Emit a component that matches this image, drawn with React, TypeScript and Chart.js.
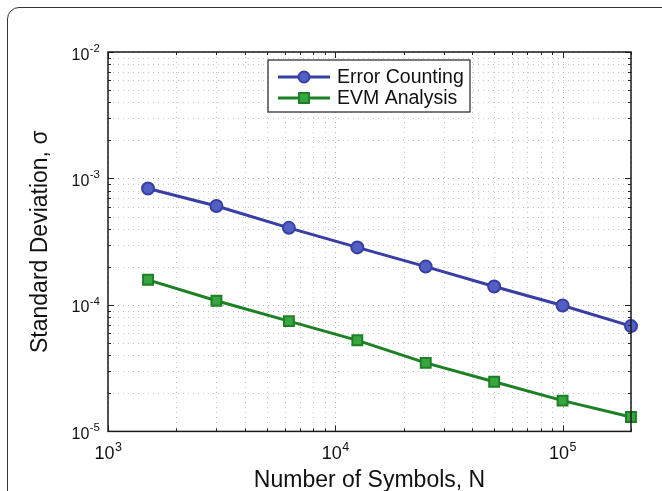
import React, { useEffect, useRef } from "react";
import { Chart, registerables } from "chart.js";

Chart.register(...registerables);

// ---- data ----
const symbolCounts = [1500, 3000, 6250, 12500, 25000, 50000, 100000, 200000];
const errorCountingStd = [8.34e-4, 6.06e-4, 4.07e-4, 2.85e-4, 2.01e-4, 1.4e-4, 9.9e-5, 6.8e-5];
const evmAnalysisStd = [1.58e-4, 1.08e-4, 7.45e-5, 5.25e-5, 3.48e-5, 2.47e-5, 1.75e-5, 1.3e-5];
const seriesLabels = ["Error Counting", "EVM Analysis"];
const xTickExponents = [3, 4, 5];
const yTickExponents = [-2, -3, -4, -5];
const xAxisTitle = "Number of Symbols, N";
const yAxisTitle = "Standard Deviation, σ";
const xRange = [1000, 200000];
const yRange = [1e-5, 1e-2];

const FONT = "'Liberation Sans', Arial, Helvetica, sans-serif";
const BLUE_LINE = "rgb(55,62,165)";
const BLUE_FILL = "rgb(82,96,195)";
const GREEN_LINE = "rgb(28,128,36)";
const GREEN_FILL = "rgb(56,165,64)";

function decadeValues(min: number, max: number): { v: number; major: boolean }[] {
  const out: { v: number; major: boolean }[] = [];
  const e0 = Math.floor(Math.log10(min));
  const e1 = Math.ceil(Math.log10(max));
  for (let e = e0; e <= e1; e++) {
    for (let m = 1; m <= 9; m++) {
      const v = m * Math.pow(10, e);
      if (v >= min * 0.9999 && v <= max * 1.0001) out.push({ v, major: m === 1 });
    }
  }
  return out;
}

const matlabPlugin = {
  id: "matlabFrame",
  beforeDatasetsDraw(chart: any) {
    const { ctx, chartArea: a, scales } = chart;
    const xs = scales.x;
    const ys = scales.y;
    ctx.save();
    ctx.lineWidth = 1;
    ctx.setLineDash([1, 4]);
    for (const t of decadeValues(xRange[0], xRange[1])) {
      const px = Math.round(xs.getPixelForValue(t.v)) + 0.5;
      ctx.strokeStyle = t.major ? "rgba(140,140,140,0.7)" : "rgba(150,150,150,0.55)";
      ctx.beginPath();
      ctx.moveTo(px, a.top);
      ctx.lineTo(px, a.bottom);
      ctx.stroke();
    }
    for (const t of decadeValues(yRange[0], yRange[1])) {
      const py = Math.round(ys.getPixelForValue(t.v)) + 0.5;
      ctx.strokeStyle = t.major ? "rgba(140,140,140,0.7)" : "rgba(150,150,150,0.55)";
      ctx.beginPath();
      ctx.moveTo(a.left, py);
      ctx.lineTo(a.right, py);
      ctx.stroke();
    }
    ctx.restore();
  },
  afterDatasetsDraw(chart: any) {
    const { ctx, chartArea: a, scales } = chart;
    const xs = scales.x;
    const ys = scales.y;
    ctx.save();
    // ticks
    ctx.strokeStyle = "#222";
    ctx.lineWidth = 1;
    for (const t of decadeValues(xRange[0], xRange[1])) {
      const px = Math.round(xs.getPixelForValue(t.v)) + 0.5;
      const len = t.major ? 6 : 3;
      ctx.beginPath();
      ctx.moveTo(px, a.bottom);
      ctx.lineTo(px, a.bottom - len);
      ctx.moveTo(px, a.top);
      ctx.lineTo(px, a.top + len);
      ctx.stroke();
    }
    for (const t of decadeValues(yRange[0], yRange[1])) {
      const py = Math.round(ys.getPixelForValue(t.v)) + 0.5;
      const len = t.major ? 6 : 3;
      ctx.beginPath();
      ctx.moveTo(a.left, py);
      ctx.lineTo(a.left + len, py);
      ctx.moveTo(a.right, py);
      ctx.lineTo(a.right - len, py);
      ctx.stroke();
    }
    // axes box
    ctx.lineWidth = 1.5;
    ctx.strokeStyle = "#1a1a1a";
    ctx.strokeRect(a.left, a.top, a.right - a.left, a.bottom - a.top);

    // legend
    const lx = 268, ly = 60, lw = 202, lh = 52;
    ctx.fillStyle = "#fff";
    ctx.fillRect(lx, ly, lw, lh);
    ctx.lineWidth = 1.2;
    ctx.strokeStyle = "#222";
    ctx.strokeRect(lx, ly, lw, lh);
    const rows = [
      { label: seriesLabels[0], line: BLUE_LINE, fill: BLUE_FILL, shape: "circle", y: ly + 17 },
      { label: seriesLabels[1], line: GREEN_LINE, fill: GREEN_FILL, shape: "rect", y: ly + 38 },
    ];
    for (const r of rows) {
      ctx.strokeStyle = r.line;
      ctx.lineWidth = 3;
      ctx.beginPath();
      ctx.moveTo(lx + 10, r.y);
      ctx.lineTo(lx + 62, r.y);
      ctx.stroke();
      ctx.lineWidth = 2;
      ctx.fillStyle = r.fill;
      ctx.beginPath();
      if (r.shape === "circle") {
        ctx.arc(lx + 36, r.y, 5.5, 0, Math.PI * 2);
      } else {
        ctx.rect(lx + 31, r.y - 5, 10, 10);
      }
      ctx.fill();
      ctx.stroke();
      ctx.fillStyle = "#111";
      ctx.font = `19.5px ${FONT}`;
      ctx.textAlign = "left";
      ctx.textBaseline = "middle";
      ctx.fillText(r.label, lx + 69, r.y + 1);
    }
    ctx.restore();
  },
  afterDraw(chart: any) {
    const { ctx, chartArea: a, scales } = chart;
    const xs = scales.x;
    const ys = scales.y;
    ctx.save();
    ctx.fillStyle = "#111";
    ctx.textBaseline = "alphabetic";
    ctx.textAlign = "left";
    const xBase = `18px ${FONT}`;
    const xSup = `12.5px ${FONT}`;
    for (const e of xTickExponents) {
      const px = xs.getPixelForValue(Math.pow(10, e));
      ctx.font = xBase;
      const wb = ctx.measureText("10").width;
      ctx.font = xSup;
      const ws = ctx.measureText(String(e)).width;
      const start = px - (wb + ws) / 2;
      ctx.font = xBase;
      ctx.fillText("10", start, a.bottom + 28);
      ctx.font = xSup;
      ctx.fillText(String(e), start + wb + 0.5, a.bottom + 20);
    }
    const yBase = `16px ${FONT}`;
    const ySup = `11.5px ${FONT}`;
    for (const e of yTickExponents) {
      const py = ys.getPixelForValue(Math.pow(10, e));
      const sup = String(e);
      ctx.font = ySup;
      const ws = ctx.measureText(sup).width;
      ctx.font = yBase;
      const wb = ctx.measureText("10").width;
      const right = a.left - 8;
      ctx.font = yBase;
      ctx.fillText("10", right - ws - wb - 0.5, py + 7.5);
      ctx.font = ySup;
      ctx.fillText(sup, right - ws, py);
    }
    ctx.restore();
  },
};

export default function App() {
  const canvasRef = useRef<HTMLCanvasElement | null>(null);

  useEffect(() => {
    if (!canvasRef.current) return;
    const toPoints = (ys: number[]) => symbolCounts.map((x, i) => ({ x, y: ys[i] }));
    const chart = new Chart(canvasRef.current, {
      type: "line",
      data: {
        datasets: [
          {
            label: seriesLabels[0],
            data: toPoints(errorCountingStd),
            borderColor: BLUE_LINE,
            backgroundColor: BLUE_FILL,
            borderWidth: 3,
            pointStyle: "circle",
            pointRadius: 6,
            pointBorderWidth: 2,
            pointBorderColor: BLUE_LINE,
            pointBackgroundColor: BLUE_FILL,
            tension: 0,
            clip: false as any,
          },
          {
            label: seriesLabels[1],
            data: toPoints(evmAnalysisStd),
            borderColor: GREEN_LINE,
            backgroundColor: GREEN_FILL,
            borderWidth: 3,
            pointStyle: "rect",
            pointRadius: 7,
            pointBorderWidth: 2,
            pointBorderColor: GREEN_LINE,
            pointBackgroundColor: GREEN_FILL,
            tension: 0,
            clip: false as any,
          },
        ],
      },
      options: {
        responsive: false,
        animation: false,
        devicePixelRatio: 1,
        layout: { padding: { left: 27, top: 52, right: 31, bottom: 0 } },
        plugins: { legend: { display: false }, tooltip: { enabled: false } },
        scales: {
          x: {
            type: "logarithmic",
            min: xRange[0],
            max: xRange[1],
            grid: { display: false, drawTicks: false, tickLength: 0 },
            border: { display: false },
            ticks: { display: false },
            title: {
              display: true,
              text: xAxisTitle,
              color: "#111",
              font: { family: FONT, size: 23 },
              padding: { top: 35, bottom: -3 },
            },
          },
          y: {
            type: "logarithmic",
            min: yRange[0],
            max: yRange[1],
            grid: { display: false, drawTicks: false, tickLength: 0 },
            border: { display: false },
            ticks: { display: false },
            title: {
              display: true,
              text: yAxisTitle,
              color: "#111",
              font: { family: FONT, size: 23 },
              padding: { top: 0, bottom: 53.4 },
            },
          },
        },
      },
      plugins: [matlabPlugin],
    });
    return () => chart.destroy();
  }, []);

  return (
    <div
      style={{
        position: "fixed",
        left: 0,
        top: 0,
        width: 662,
        height: 491,
        overflow: "hidden",
        background: "#fff",
      }}
    >
      <div
        style={{
          position: "absolute",
          left: 7,
          top: 7,
          width: 720,
          height: 560,
          border: "1.5px solid #333",
          borderTopLeftRadius: 12,
          boxSizing: "border-box",
        }}
      />
      <canvas
        ref={canvasRef}
        width={662}
        height={491}
        style={{ position: "absolute", left: 0, top: 0, display: "block" }}
      />
    </div>
  );
}
